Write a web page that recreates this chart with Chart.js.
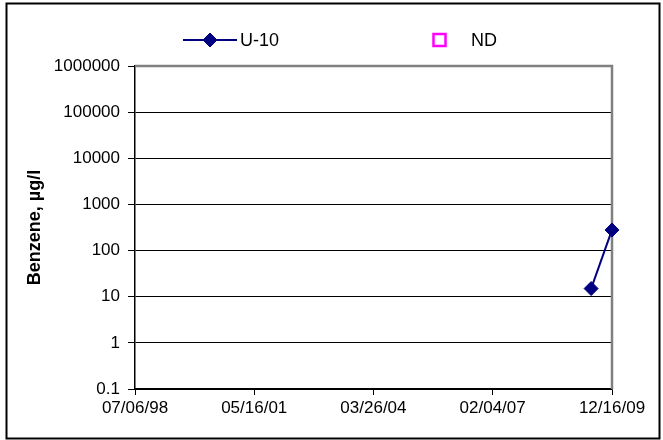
<!DOCTYPE html>
<html><head><meta charset="utf-8">
<script src="https://cdn.jsdelivr.net/npm/chart.js@4.4.1/dist/chart.umd.min.js"></script>
<style>html,body{margin:0;padding:0;background:#fff}#wrap{position:relative;width:663px;height:440px}</style>
</head><body><div id="wrap"><canvas id="c" width="663" height="440"></canvas></div>
<script>
// ---- data ----
const seriesName = 'U-10';
const sampleDates = ['2009-06-16', '2009-12-16'];
const benzene = [15, 280];
const ndName = 'ND';
const ndDates = [];
const ndValues = [];
const xTickDates = ['1998-07-06', '2001-05-16', '2004-03-26', '2007-02-04', '2009-12-16'];
const yTickValues = [0.1, 1, 10, 100, 1000, 10000, 100000, 1000000];
const yTitle = 'Benzene, µg/l';

// ---- helpers ----
const DAY = 86400000;
const toDay = s => Date.parse(s + 'T00:00:00Z') / DAY;
const pad2 = n => String(n).padStart(2, '0');
const fmtDate = d => { const t = new Date(Math.round(d) * DAY); return pad2(t.getUTCMonth() + 1) + '/' + pad2(t.getUTCDate()) + '/' + pad2(t.getUTCFullYear() % 100); };
const FONT = "'Liberation Sans', Arial, sans-serif";
Chart.defaults.font.family = FONT;
Chart.defaults.color = '#000';

const frame = {
  id: 'frame',
  beforeDatasetsDraw(chart) {
    const { ctx, chartArea: a } = chart;
    ctx.save();
    ctx.strokeStyle = '#808080';
    ctx.lineWidth = 2.5;
    ctx.beginPath();
    ctx.moveTo(a.left, a.top); ctx.lineTo(a.right, a.top); ctx.lineTo(a.right, a.bottom);
    ctx.stroke();
    ctx.restore();
  },
  afterDraw(chart) {
    const { ctx } = chart;
    ctx.save();
    ctx.strokeStyle = '#000';
    ctx.lineWidth = 2;
    ctx.strokeRect(6.5, 3.5, 653, 435);
    // legend
    const ds = chart.data.datasets;
    const items = [{ i: 0, x0: 183, x1: 237, tx: 240 }, { i: 1, x0: 433, x1: 446, tx: 471 }];
    const ly = 40;
    ctx.font = '18px ' + FONT;
    ctx.textBaseline = 'middle';
    ctx.fillStyle = '#000';
    items.forEach(it => {
      const d = ds[it.i];
      const cx = (it.x0 + it.x1) / 2;
      if (d.showLine !== false) {
        ctx.strokeStyle = d.borderColor; ctx.lineWidth = d.borderWidth;
        ctx.beginPath(); ctx.moveTo(it.x0, ly); ctx.lineTo(it.x1, ly); ctx.stroke();
      }
      ctx.fillStyle = d.pointBackgroundColor; ctx.strokeStyle = d.pointBorderColor; ctx.lineWidth = d.pointBorderWidth;
      Chart.helpers.drawPoint(ctx, { pointStyle: d.pointStyle, radius: d.pointRadius, borderWidth: d.pointBorderWidth, rotation: 0 }, cx, ly);
      ctx.fillStyle = '#000';
      ctx.fillText(d.label, it.tx, ly + 1);
    });
    ctx.restore();
  }
};

new Chart(document.getElementById('c'), {
  type: 'line',
  data: {
    datasets: [{
      label: seriesName,
      data: sampleDates.map((d, i) => ({ x: toDay(d), y: benzene[i] })),
      borderColor: '#000080', backgroundColor: '#000080',
      pointBackgroundColor: '#000080', pointBorderColor: '#000080',
      borderWidth: 2, pointStyle: 'rectRot', pointRadius: 7, pointBorderWidth: 1,
      tension: 0, fill: false, clip: false
    }, {
      label: ndName,
      data: ndDates.map((d, i) => ({ x: toDay(d), y: ndValues[i] })),
      borderColor: '#FF00FF', backgroundColor: '#FFFFFF',
      pointBackgroundColor: '#FFFFFF', pointBorderColor: '#FF00FF',
      borderWidth: 2, pointStyle: 'rect', pointRadius: 8.5, pointBorderWidth: 2.5,
      showLine: false, clip: false
    }]
  },
  options: {
    responsive: false, animation: false, events: [],
    layout: { padding: { left: 0, right: 51, top: 66, bottom: 0 } },
    plugins: { legend: { display: false }, tooltip: { enabled: false } },
    scales: {
      x: {
        type: 'linear',
        min: toDay(xTickDates[0]), max: toDay(xTickDates[xTickDates.length - 1]),
        afterBuildTicks: s => { s.ticks = xTickDates.map(d => ({ value: toDay(d) })); },
        afterFit: s => { s.height = 51; },
        ticks: { callback: v => fmtDate(v), font: { size: 17 }, color: '#000', maxRotation: 0, autoSkip: false, padding: 3 },
        grid: { drawOnChartArea: false, drawTicks: true, tickLength: 6, tickColor: '#000', tickWidth: 1 },
        border: { color: '#000', width: 1.5 }
      },
      y: {
        type: 'logarithmic',
        min: yTickValues[0], max: yTickValues[yTickValues.length - 1],
        afterBuildTicks: s => { s.ticks = yTickValues.map(v => ({ value: v, major: true })); },
        afterFit: s => { s.width = 135; },
        ticks: { callback: v => String(v), font: { size: 17 }, color: '#000', autoSkip: false, padding: 8 },
        grid: { color: '#000', lineWidth: 1, tickLength: 7, tickColor: '#000', tickWidth: 1 },
        border: { color: '#000', width: 1.5 },
        title: { display: true, text: yTitle, font: { size: 18, weight: 'bold' }, color: '#000', padding: { top: 24, bottom: 0 } }
      }
    }
  },
  plugins: [frame]
});
</script>
</body></html>
